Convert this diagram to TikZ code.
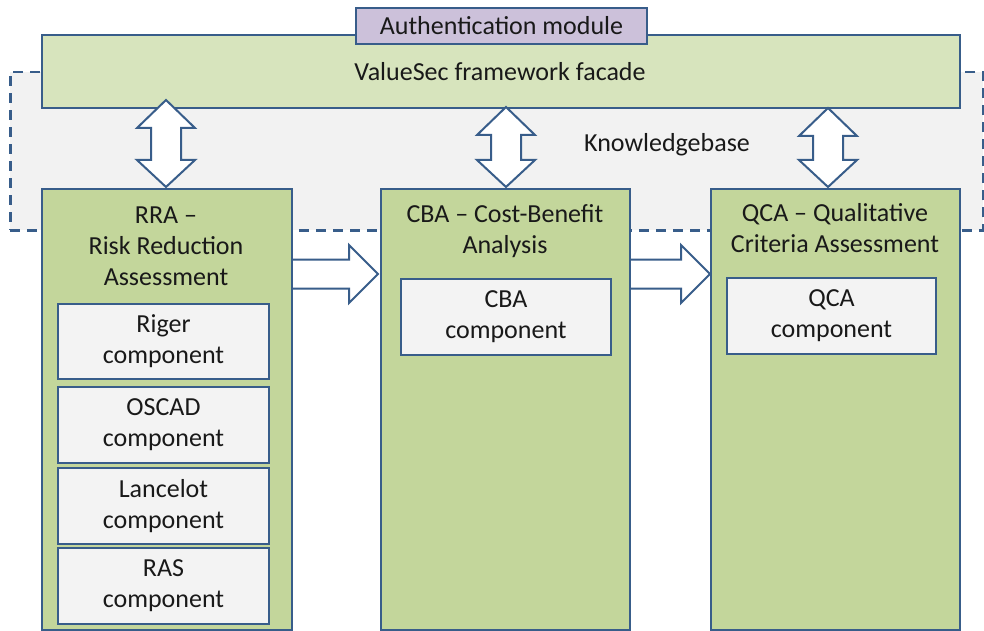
\documentclass[tikz,border=0pt]{standalone}
\usepackage{fontspec}
\setmainfont{Carlito}
\usetikzlibrary{positioning}

\definecolor{frameblue}{HTML}{385D8A}
\definecolor{facadegreen}{HTML}{D7E4BD}
\definecolor{colgreen}{HTML}{C3D69B}
\definecolor{authviolet}{HTML}{CCC1DA}
\definecolor{kbgray}{HTML}{F2F2F2}
\definecolor{compgray}{HTML}{F3F3F3}

\tikzset{
	box/.style={draw=frameblue, line width=2pt, inner sep=0pt, anchor=north west},
	colbox/.style={box, fill=colgreen, minimum width=250, minimum height=441},
	compbox/.style={box, fill=compgray, minimum width=211, minimum height=75, align=center, text=black!90, font=\fontsize{26}{31}\selectfont},
	blockarrow/.style={draw=frameblue, fill=white, line width=2pt, line join=miter},
	txt/.style={align=center, text=black!90, font=\fontsize{26}{31}\selectfont},
}

% vertical double block arrow: x, top tip, bottom tip
\newcommand{\vertarrow}[3]{%
	\draw[blockarrow] (#1,#2) -- (#1+29,#2+28) -- (#1+15,#2+28) -- (#1+15,#3-27) -- (#1+29,#3-27) -- (#1,#3)
	-- (#1-29,#3-27) -- (#1-15,#3-27) -- (#1-15,#2+28) -- (#1-29,#2+28) -- cycle;}
% horizontal block arrow: y, left end, tip
\newcommand{\horzarrow}[3]{%
	\draw[blockarrow] (#2,#1-14.5) -- (#3-29,#1-14.5) -- (#3-29,#1-29) -- (#3,#1) -- (#3-29,#1+29)
	-- (#3-29,#1+14.5) -- (#2,#1+14.5) -- cycle;}

\begin{document}
\begin{tikzpicture}[x=1pt, y=-1pt]
	\fill[white] (0,0) rectangle (984,631);
	\useasboundingbox (0,0) rectangle (984,631);

	% knowledgebase area
	\draw (9,71) node (kb) [box, fill=kbgray, line width=2.5pt, dash pattern=on 10pt off 7pt, minimum width=973, minimum height=158] {};
	\draw (667,145) node (kblabel) [txt] {Knowledgebase};

	% facade and authentication
	\draw (41,34) node (facade) [box, fill=facadegreen, minimum width=918, minimum height=73] {};
	\draw (500,72) node (facadelabel) [txt] {ValueSec framework facade};
	\draw (355,7) node (auth) [box, fill=authviolet, minimum width=291, minimum height=36, txt] {Authentication module};

	\vertarrow{166}{100}{187}
	\vertarrow{506}{107}{187}
	\vertarrow{828}{108}{187}

	\horzarrow{274}{291}{378}
	\horzarrow{274}{629}{710}

	% columns
	\draw (41,188) node (rra) [colbox] {};
	\draw (380,188) node (cba) [colbox, minimum width=249] {};
	\draw (710,188) node (qca) [colbox, minimum width=249] {};

	\draw (166,246) node (rratitle) [txt] {RRA --\\Risk Reduction\\Assessment};
	\draw (505,231) node (cbatitle) [txt] {CBA -- Cost-Benefit\\Analysis};
	\draw (835,228) node (qcatitle) [txt] {QCA -- Qualitative\\Criteria Assessment};

	% components
	\draw (57,303) node (riger) [compbox] {Riger\\component};
	\draw (57,386) node (oscad) [compbox, minimum height=76] {OSCAD\\component};
	\draw (57,467) node (lancelot) [compbox, minimum height=76] {Lancelot\\component};
	\draw (57,547) node (ras) [compbox, minimum height=76] {RAS\\component};

	\draw (400,278) node (cbacomp) [compbox, minimum width=210, minimum height=76] {CBA\\component};
	\draw (726,277) node (qcacomp) [compbox, minimum width=209, minimum height=76] {QCA\\component};

\end{tikzpicture}
\end{document}
